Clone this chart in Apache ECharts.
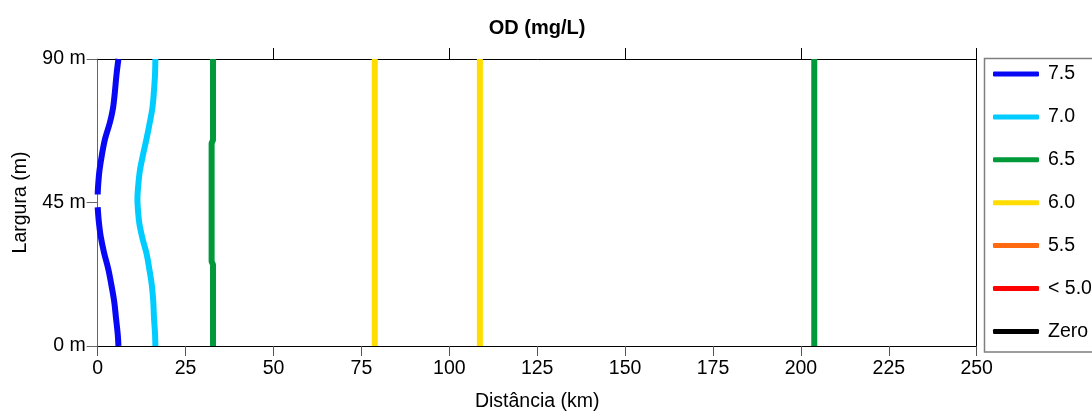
<!DOCTYPE html>
<html>
<head>
<meta charset="utf-8">
<script src="https://cdn.jsdelivr.net/npm/echarts@6/dist/echarts.min.js"></script>
<style>
  html, body { margin: 0; padding: 0; background: #fff; }
  #chart { width: 1092px; height: 417px; }
</style>
</head>
<body>
<div id="chart"></div>
<script>
// Dissolved-oxygen contour lines along the river reach: [distance km, width m]
const levelNames = ['7.5', '7.0', '6.5', '6.0', '5.5', '< 5.0', 'Zero'];
const levelColors = ['#0808f5', '#00ccff', '#009a3a', '#ffdd00', '#ff6a10', '#ff0000', '#000000'];

const od75Upper = [[5.9, 90], [5.4, 85.6], [4.45, 75.3], [3.5, 70.2], [2.1, 65], [1.2, 60], [0.5, 55], [0.1, 50], [0, 47.5]];
const od75Lower = [[0, 43.5], [0.3, 39.2], [0.85, 34.4], [1.8, 29.3], [3.0, 24.2], [3.9, 19.1], [4.7, 13.9], [5.2, 8.8], [5.7, 3.7], [5.9, 0]];
const od70 = [[16.4, 90], [16.3, 85], [16.0, 80], [15.6, 75], [14.8, 70], [13.9, 65], [12.9, 60], [12.0, 55], [11.5, 50], [11.3, 46], [11.5, 42], [11.9, 38], [12.9, 33], [13.9, 29], [14.7, 24], [15.4, 19], [15.8, 14], [16.0, 9], [16.3, 4], [16.4, 0]];
const od65a = [[32.8, 90], [32.8, 64.6], [32.4, 63.6], [32.4, 26.5], [32.8, 25.5], [32.8, 0]];
const od65b = [[203.8, 90], [203.8, 0]];
const od60a = [[78.8, 90], [78.8, 0]];
const od60b = [[108.7, 90], [108.7, 0]];

const xTicksTop = [50, 100, 150, 200, 250];

const font = 'Liberation Sans, Arial, sans-serif';

function contour(name, data, smooth) {
  const i = levelNames.indexOf(name);
  return {
    type: 'line', name: name, data: data, smooth: smooth ? 0.35 : false,
    symbol: 'none', color: levelColors[i],
    lineStyle: { width: 6, color: levelColors[i], cap: 'butt' },
    xAxisIndex: 0, yAxisIndex: 0, silent: true
  };
}

const chart = echarts.init(document.getElementById('chart'), null, { renderer: 'canvas' });
chart.setOption({
  animation: false,
  backgroundColor: '#fff',
  title: {
    text: 'OD (mg/L)', left: 532, top: 13, textAlign: 'center',
    textStyle: { fontFamily: font, fontSize: 20, fontWeight: 'bold', color: '#000' }
  },
  grid: { left: 97.7, right: 115.3, top: 59, bottom: 65 },
  legend: {
    orient: 'vertical', left: 993, top: 64, padding: 0,
    data: levelNames, icon: 'roundRect', itemWidth: 46, itemHeight: 5, itemGap: 22.9,
    textStyle: { fontFamily: font, fontSize: 19.5, color: '#000', lineHeight: 20, padding: [0, 0, 0, 4] },
    selectedMode: false
  },
  graphic: [{
    type: 'rect', shape: { x: 984.5, y: 58.5, width: 200, height: 293.5 },
    style: { fill: 'none', stroke: '#7f7f7f', lineWidth: 1.5 }, z: 1
  }],
  xAxis: [{
    type: 'value', position: 'bottom', min: 0, max: 250, interval: 25,
    name: 'Distância (km)', nameLocation: 'middle', nameGap: 46,
    nameTextStyle: { fontFamily: font, fontSize: 19.5, color: '#000' },
    axisLine: { show: true, onZero: false, lineStyle: { color: '#000', width: 1 } },
    axisTick: { show: true, length: 10, lineStyle: { color: '#555' } },
    axisLabel: { fontFamily: font, fontSize: 19.5, color: '#000', margin: 13 },
    splitLine: { show: false }
  }, {
    type: 'value', position: 'top', min: 0, max: 250, interval: 50,
    axisLine: { show: true, onZero: false, lineStyle: { color: '#000', width: 1 } },
    axisTick: { show: true, length: 11, customValues: xTicksTop, lineStyle: { color: '#000' } },
    axisLabel: { show: false },
    splitLine: { show: false }
  }],
  yAxis: [{
    type: 'value', position: 'left', min: 0, max: 90, interval: 45,
    name: 'Largura (m)', nameLocation: 'middle', nameGap: 67, nameRotate: 90,
    nameTextStyle: { fontFamily: font, fontSize: 19.5, color: '#000' },
    axisLine: { show: true, onZero: false, lineStyle: { color: '#666', width: 1 } },
    axisTick: { show: true, length: 11, lineStyle: { color: '#666' } },
    axisLabel: { fontFamily: font, fontSize: 19.5, color: '#000', margin: 12, formatter: '{value} m' },
    splitLine: { show: false }
  }, {
    type: 'value', position: 'right', min: 0, max: 90, interval: 45,
    axisLine: { show: true, onZero: false, lineStyle: { color: '#000', width: 1 } },
    axisTick: { show: false }, axisLabel: { show: false }, splitLine: { show: false }
  }],
  series: [
    contour('7.5', od75Upper, true),
    contour('7.5', od75Lower, true),
    contour('7.0', od70, true),
    contour('6.5', od65a, false),
    contour('6.5', od65b, false),
    contour('6.0', od60a, false),
    contour('6.0', od60b, false),
    contour('5.5', [], false),
    contour('< 5.0', [], false),
    contour('Zero', [], false)
  ]
});
</script>
</body>
</html>
